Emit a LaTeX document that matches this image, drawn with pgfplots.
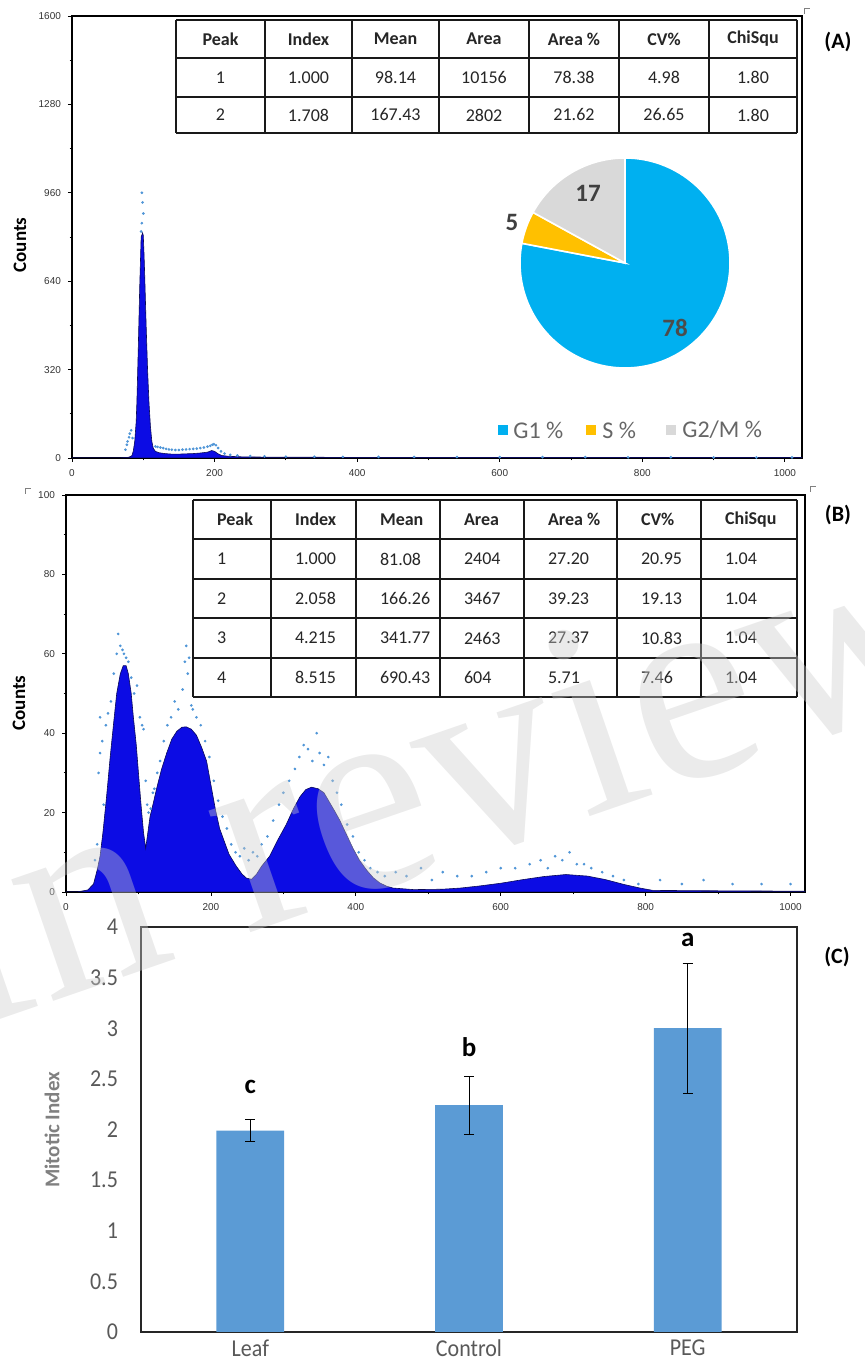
\documentclass[border=0pt]{standalone}
\usepackage{fontspec}
\setmainfont{Carlito}
\newfontfamily\libsans{Liberation Sans}
\newfontfamily\wmfont{Liberation Serif}
\usepackage{pgfplots}
\pgfplotsset{compat=1.18}
\definecolor{histblue}{RGB}{12,12,228}
\definecolor{histedge}{RGB}{10,10,90}
\definecolor{dotblue}{RGB}{80,150,215}
\definecolor{pieblue}{RGB}{0,176,240}
\definecolor{pieyellow}{RGB}{255,192,0}
\definecolor{piegray}{RGB}{217,217,217}
\definecolor{barblue}{RGB}{91,155,213}
\definecolor{txtgray}{RGB}{89,89,89}

\pgfplotsset{
  flowaxis/.style={
    scale only axis, anchor=south west,
    tick align=outside, xtick pos=left, ytick pos=left,
    major tick length=2pt, minor tick length=1.2pt,
    minor x tick num=1, minor y tick num=1,
    tick style={black, line width=0.4pt},
    axis line style={line width=1pt},
    ticklabel style={font=\libsans\fontsize{5}{6}\selectfont, text=black!80},
    /pgf/number format/assume math mode=true,
    /pgf/number format/1000 sep={},
    xtick={0,200,...,1000},
  }
}

\begin{document}
\begin{tikzpicture}
\path[use as bounding box] (0pt,0pt) rectangle (432pt,684.5pt);

% ---------------- Panel A histogram ----------------
\begin{axis}[flowaxis, at={(36pt,455.5pt)}, width=365pt, height=221pt,
  xmin=0, xmax=1024, ymin=0, ymax=1600, ytick={0,320,...,1600}]
\addplot[fill=histblue, draw=histedge, line width=0.3pt] coordinates {
(0,0) (60,0) (74,1) (80,3) (84,8) (86,25) (88,60) (90,130) (91,200) (93,400) (95,620)
(97,800) (99,815) (100,805) (101,740) (102,660) (104,480) (106,320) (108,200) (110,115)
(112,60) (114,35) (117,24) (122,19) (130,16) (140,14) (150,14) (160,15) (170,16) (180,18)
(190,21) (196,27) (200,24) (205,15) (210,9) (220,6) (240,4) (280,3) (350,2.5) (450,2)
(600,2) (800,1.5) (1000,1) (1024,1)} \closedcycle;
\addplot[only marks, mark=*, mark size=0.45pt, dotblue] coordinates {
(98,960) (99,925) (100,885) (98,850) (97,820) (75,30) (77,48) (78,60) (80,75) (81,88)
(83,100) (85,72) (117,42) (120,40) (124,38) (128,36) (132,33) (136,31) (140,30) (145,29)
(150,29) (155,30) (160,31) (165,32) (170,33) (175,34) (180,36) (185,38) (190,41) (194,44)
(197,48) (199,50) (202,46) (205,36) (209,24) (214,16) (222,11) (232,9) (250,7) (270,6)
(300,5) (340,4.5) (380,4) (430,4) (480,3.5) (540,3.5) (600,3) (660,3) (720,3) (780,2.5)
(840,2.5) (900,2) (960,2) (1010,2)};
\end{axis}

% ---------------- Panel B histogram ----------------
\begin{axis}[flowaxis, at={(33pt,238.5pt)}, width=369.5pt, height=198.5pt,
  xmin=0, xmax=1020, ymin=0, ymax=100, ytick={0,20,...,100}]
\addplot[fill=histblue, draw=histedge, line width=0.3pt] coordinates {
(0,0) (15,0) (30,0.5) (38,2) (43,5.5) (47,9) (51,15) (56,24) (61,34) (66,43) (70,50)
(75,55) (79,57) (83,57) (86,55) (90,50) (93,44) (97,37) (100,30) (104,21) (107,15)
(110,11) (113,15) (116,19) (120,22) (125,26) (132,31) (139,35) (146,38.5) (153,40.5)
(160,41.5) (166,41.6) (173,41) (180,39.5) (187,36.5) (194,33) (200,27) (206,21)
(212,16) (218,13) (225,9.5) (235,6.5) (243,4.5) (249,3.5) (256,3.2) (263,4.5) (270,6.5)
(281,9) (292,13) (304,17) (314,21) (323,24) (331,25.8) (339,26.4) (348,26) (356,25)
(364,22.5) (372,20) (378,18) (387,14.5) (396,11) (405,8) (415,5.5) (424,3.6) (433,2.3)
(442,1.5) (451,1) (480,0.6) (520,0.7) (545,1) (570,1.5) (600,2.2) (630,3.1) (660,3.9)
(690,4.4) (720,4) (745,3.1) (770,1.9) (792,1) (810,0.4) (900,0.3) (1020,0.2)} \closedcycle;
\addplot[only marks, mark=*, mark size=0.45pt, dotblue] coordinates {
(40,8) (43,12) (45,30) (47,44) (47,35) (50,38) (52,22) (55,42) (58,45) (62,48) (66,55)
(70,60) (72,65) (75,62) (78,61) (80,60) (83,59) (86,58) (90,54) (94,50) (98,52) (102,44)
(105,42) (107,41) (110,28) (112,22) (114,20) (117,21) (120,25) (122,26) (126,30) (130,33)
(135,38) (140,42) (145,44) (150,48) (155,46) (161,51) (164,58) (166,62) (168,55) (170,59)
(173,47) (175,46) (180,44) (186,42) (192,38) (198,34) (204,28) (210,23) (216,19) (222,16)
(228,12) (234,10) (240,9) (246,11) (252,8) (258,10) (264,9) (270,12) (278,14) (286,18)
(294,22) (300,25) (308,28) (316,31) (322,34) (328,37) (334,36) (340,33) (346,40) (350,35)
(356,32) (362,34) (368,28) (374,25) (380,22) (388,17) (396,14) (404,10) (412,8) (420,6)
(430,5) (440,4) (455,5) (470,4) (490,6) (505,3) (520,5) (540,4) (560,4) (580,5) (600,6)
(620,6) (640,7) (655,8) (665,6) (675,9) (685,8) (695,10) (705,7) (715,7) (725,6) (740,5)
(755,4) (770,3) (790,2) (820,3) (850,2) (880,3) (920,2) (960,2) (1000,2)};
\end{axis}

% ---------------- Panel C bar chart ----------------
\begin{axis}[at={(70.5pt,18.5pt)}, anchor=south west, scale only axis,
  width=328pt, height=202.5pt,
  xmin=-0.5, xmax=2.5, ymin=0, ymax=4,
  xtick={0,1,2}, xticklabels={Leaf,Control,PEG},
  ytick={0,0.5,...,4},
  major tick length=0pt,
  axis line style={line width=0.8pt, black!85},
  ticklabel style={font=\fontsize{11}{13}\selectfont, text=txtgray, yscale=1.1},
  xticklabel style={yshift=-2.5pt, inner sep=1pt},
  yticklabel style={xshift=-8pt},
  /pgf/number format/assume math mode=true,
  clip=false]
\addplot[ybar, bar width=0.31, fill=barblue, draw=none,
  error bars/.cd, y dir=both, y explicit,
  error bar style={black, line width=0.5pt},
  error mark options={black, line width=0.5pt, mark size=2.5pt, rotate=90}]
  coordinates {(0,1.99) +- (0,0.105) (1,2.24) +- (0,0.285) (2,3.0) +- (0,0.64)};
\node[font=\bfseries\fontsize{13.5}{15}\selectfont] at (axis cs:0,2.42) {c};
\node[font=\bfseries\fontsize{13.5}{15}\selectfont] at (axis cs:1,2.81) {b};
\node[font=\bfseries\fontsize{13.5}{15}\selectfont] at (axis cs:2,3.87) {a};
\end{axis}

% ---------------- Pie chart (panel A) ----------------
\pgfmathsetmacro{\aG}{90-3.6*78}
\pgfmathsetmacro{\aS}{\aG-3.6*5}
\pgfmathsetmacro{\aM}{\aS-3.6*17}
\begin{axis}[at={(312.5pt,553pt)}, anchor=center, scale only axis,
  width=105pt, height=105pt, xmin=-1, xmax=1, ymin=-1, ymax=1, hide axis, clip=false]
\fill[pieblue, draw=white, line width=0.8pt] (axis cs:0,0) -- ++(90:52.5pt)
  arc[start angle=90, end angle=\aG, radius=52.5pt] -- cycle;
\fill[pieyellow, draw=white, line width=0.8pt] (axis cs:0,0) -- ++(\aG:52.5pt)
  arc[start angle=\aG, end angle=\aS, radius=52.5pt] -- cycle;
\fill[piegray, draw=white, line width=0.8pt] (axis cs:0,0) -- ++(\aS:52.5pt)
  arc[start angle=\aS, end angle=\aM, radius=52.5pt] -- cycle;
\end{axis}

% ---------------- Text, tables (pixel coordinates) ----------------
\begin{scope}[x=0.5pt, y=-0.5pt, yshift=684.5pt]
% Counts labels
\node[rotate=90, font=\bfseries\fontsize{9.5}{11}\selectfont] at (20,245) {Counts};
\node[rotate=90, font=\bfseries\fontsize{9.5}{11}\selectfont] at (19,703) {Counts};
\node[rotate=90, font=\bfseries\fontsize{10.5}{12}\selectfont, text=black!50] at (52,1130) {Mitotic Index};
% panel letters
\node[font=\bfseries\fontsize{11}{13}\selectfont] at (838,42) {(A)};
\node[font=\bfseries\fontsize{11}{13}\selectfont] at (838,515) {(B)};
\node[font=\bfseries\fontsize{11}{13}\selectfont] at (837,957) {(C)};
% corner marks
\draw[gray, line width=0.4pt] (25,494) -- (25,488) -- (31,488);
\draw[gray, line width=0.4pt] (804,14) -- (804,8) -- (810,8);
\draw[gray, line width=0.4pt] (810,492) -- (810,486) -- (816,486);

% Table A
\fill[white] (176,20) rectangle (797,133);
\foreach \x in {176,265,352,439,529,619,709,797} \draw[line width=1pt, black!90] (\x,20) -- (\x,133);
\foreach \y in {20,58,97,133} \draw[line width=1pt, black!90] (176,\y) -- (797,\y);
\begin{scope}[every node/.style={font=\fontsize{9}{10}\selectfont, text=black!85}]
\node[font=\bfseries\fontsize{9}{10}\selectfont] at (220.5,39) {Peak};
\node[font=\bfseries\fontsize{9}{10}\selectfont] at (308.5,39) {Index};
\node[font=\bfseries\fontsize{9}{10}\selectfont] at (395.5,39) {Mean};
\node[font=\bfseries\fontsize{9}{10}\selectfont] at (484,39) {Area};
\node[font=\bfseries\fontsize{9}{10}\selectfont] at (574,39) {Area \%};
\node[font=\bfseries\fontsize{9}{10}\selectfont] at (664,39) {CV\%};
\node[font=\bfseries\fontsize{9}{10}\selectfont] at (753,39) {ChiSqu};
\node at (220.5,77.5) {1}; \node at (308.5,77.5) {1.000}; \node at (395.5,77.5) {98.14};
\node at (484,77.5) {10156}; \node at (574,77.5) {78.38}; \node at (664,77.5) {4.98}; \node at (753,77.5) {1.80};
\node at (220.5,115) {2}; \node at (308.5,115) {1.708}; \node at (395.5,115) {167.43};
\node at (484,115) {2802}; \node at (574,115) {21.62}; \node at (664,115) {26.65}; \node at (753,115) {1.80};
\end{scope}

% Table B
\fill[white] (193,500) rectangle (797,697);
\foreach \x in {193,271,356,440,524,617,701,797} \draw[line width=1pt, black!90] (\x,500) -- (\x,697);
\foreach \y in {500,539,579,618,658,697} \draw[line width=1pt, black!90] (193,\y) -- (797,\y);
\begin{scope}[every node/.style={font=\fontsize{9}{10}\selectfont, text=black!85, anchor=west}]
\node[font=\bfseries\fontsize{9}{10}\selectfont] at (210,519.5) {Peak};
\node[font=\bfseries\fontsize{9}{10}\selectfont] at (288,519.5) {Index};
\node[font=\bfseries\fontsize{9}{10}\selectfont] at (373,519.5) {Mean};
\node[font=\bfseries\fontsize{9}{10}\selectfont] at (457,519.5) {Area};
\node[font=\bfseries\fontsize{9}{10}\selectfont] at (541,519.5) {Area \%};
\node[font=\bfseries\fontsize{9}{10}\selectfont] at (634,519.5) {CV\%};
\node[font=\bfseries\fontsize{9}{10}\selectfont] at (718,519.5) {ChiSqu};
\node at (210,559) {1}; \node at (288,559) {1.000}; \node at (373,559) {81.08}; \node at (457,559) {2404};
\node at (541,559) {27.20}; \node at (634,559) {20.95}; \node at (718,559) {1.04};
\node at (210,598.5) {2}; \node at (288,598.5) {2.058}; \node at (373,598.5) {166.26}; \node at (457,598.5) {3467};
\node at (541,598.5) {39.23}; \node at (634,598.5) {19.13}; \node at (718,598.5) {1.04};
\node at (210,638) {3}; \node at (288,638) {4.215}; \node at (373,638) {341.77}; \node at (457,638) {2463};
\node at (541,638) {27.37}; \node at (634,638) {10.83}; \node at (718,638) {1.04};
\node at (210,677.5) {4}; \node at (288,677.5) {8.515}; \node at (373,677.5) {690.43}; \node at (457,677.5) {604};
\node at (541,677.5) {5.71}; \node at (634,677.5) {7.46}; \node at (718,677.5) {1.04};
\end{scope}

% Pie labels and legend
\node[font=\bfseries\fontsize{12.5}{14}\selectfont, text=black!75] at (588,193) {17};
\node[font=\bfseries\fontsize{12.5}{14}\selectfont, text=black!75] at (512,222) {5};
\node[font=\bfseries\fontsize{12.5}{14}\selectfont, text=black!70] at (675,328) {78};
\fill[pieblue] (498,425) rectangle (508,435);
\node[anchor=west, font=\fontsize{12}{14}\selectfont, text=black!60, inner sep=0pt] at (513,430) {G1 \%};
\fill[pieyellow] (586,425) rectangle (596,435);
\node[anchor=west, font=\fontsize{12}{14}\selectfont, text=black!60, inner sep=0pt] at (602,430) {S \%};
\fill[piegray] (666,425) rectangle (676,435);
\node[anchor=west, font=\fontsize{12}{14}\selectfont, text=black!60, inner sep=0pt] at (682,430) {G2/M \%};

% watermark
\node[rotate=19, text={rgb,1:red,0.8;green,0.8;blue,0.8}, opacity=0.4,
  font=\wmfont\fontsize{140}{140}\selectfont] at (433,774) {In review};
\end{scope}
\end{tikzpicture}
\end{document}
